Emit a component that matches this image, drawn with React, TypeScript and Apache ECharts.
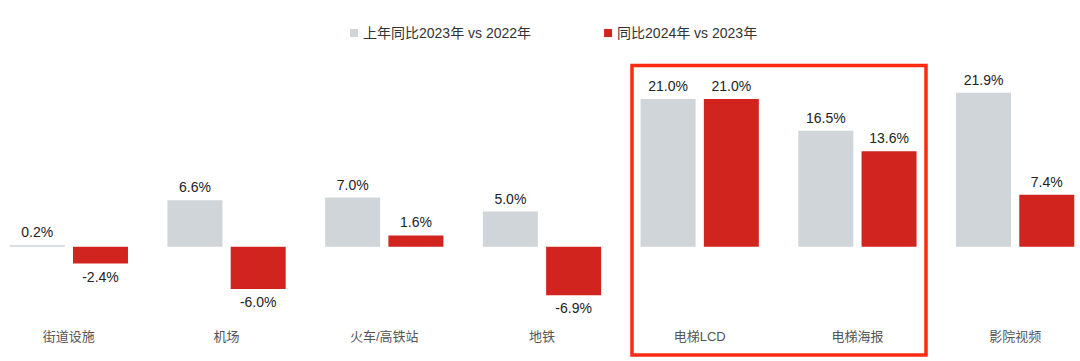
import React, { useEffect, useRef } from "react";
import * as echarts from "echarts";

const categories = ["街道设施", "机场", "火车/高铁站", "地铁", "电梯LCD", "电梯海报", "影院视频"];
const seriesNames = ["上年同比2023年 vs 2022年", "同比2024年 vs 2023年"];
const prevYoY = [0.2, 6.6, 7.0, 5.0, 21.0, 16.5, 21.9];
const currYoY = [-2.4, -6.0, 1.6, -6.9, 21.0, 13.6, 7.4];

const GRAY = "#cfd5d8";
const RED = "#d2241f";
const FONT = "'Liberation Sans', 'Noto Sans CJK SC', sans-serif";
const SHIFT = 10;

export default function App() {
  const ref = useRef<HTMLDivElement>(null);
  useEffect(() => {
    const chart = echarts.init(ref.current!, null, { renderer: "svg" });
    const labelOf = (p: any) => `${Number(p.value).toFixed(1)}%`;
    const mkData = (arr: number[]) =>
      arr.map((v) => ({
        value: v,
        label: { position: v >= 0 ? "top" : "bottom", distance: 6 },
      }));
    chart.setOption({
      animation: false,
      backgroundColor: "#ffffff",
      textStyle: { fontFamily: FONT },
      legend: {
        top: 21,
        left: 345 + SHIFT,
        itemWidth: 8,
        itemHeight: 8,
        itemGap: 73,
        icon: "rect",
        textStyle: { fontSize: 14, color: "#333", fontFamily: FONT },
        data: seriesNames,
      },
      grid: { left: 0, right: 0, top: 71, bottom: 44, containLabel: false },
      xAxis: {
        type: "category",
        data: categories,
        axisLine: { show: false },
        axisTick: { show: false },
        axisLabel: { fontSize: 13, color: "#555", margin: 13, fontFamily: FONT },
      },
      yAxis: {
        type: "value",
        min: -10,
        max: 25,
        show: false,
        splitLine: { show: false },
      },
      series: [
        {
          name: seriesNames[0],
          type: "bar",
          data: mkData(prevYoY),
          barWidth: 55,
          barGap: "15%",
          itemStyle: { color: GRAY },
          label: { show: true, formatter: labelOf, fontSize: 14, color: "#222", fontFamily: FONT },
        },
        {
          name: seriesNames[1],
          type: "bar",
          data: mkData(currYoY),
          barWidth: 55,
          barGap: "15%",
          itemStyle: { color: RED },
          label: { show: true, formatter: labelOf, fontSize: 14, color: "#222", fontFamily: FONT },
        },
      ],
      graphic: [
        {
          type: "rect",
          shape: { x: 632 + SHIFT, y: 65.5, width: 294, height: 289.5 },
          style: { fill: "none", stroke: "#ff2a12", lineWidth: 3.5 },
          z: 100,
        },
      ],
    });
    return () => chart.dispose();
  }, []);
  return (
    <div
      ref={ref}
      style={{ position: "absolute", left: -SHIFT, top: 0, width: 1080 + SHIFT + 14, height: 361 }}
    />
  );
}
